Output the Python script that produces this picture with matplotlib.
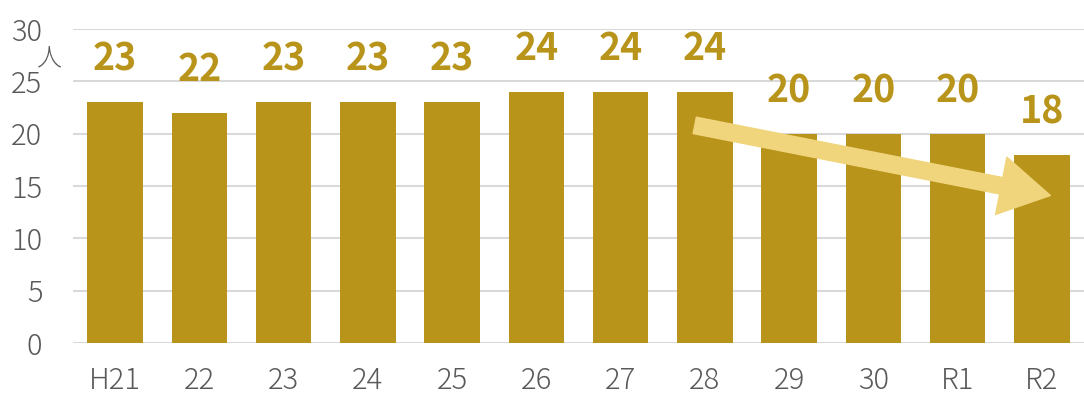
import matplotlib.pyplot as plt

# 職員数の推移（人）
categories = ["H21", "22", "23", "24", "25", "26", "27", "28", "29", "30", "R1", "R2"]
values = [23, 22, 23, 23, 23, 24, 24, 24, 20, 20, 20, 18]
yticks = [0, 5, 10, 15, 20, 25, 30]

bar_color = "#B8941A"
arrow_color = "#F0D57C"
text_gray = "#595959"

plt.rcParams["font.family"] = ["Noto Sans CJK JP", "DejaVu Sans"]

fig = plt.figure(figsize=(10.84, 3.99), dpi=100)
ax = fig.add_axes([0.0673, 0.1404, 0.9327, 0.7866])

x = range(len(categories))
ax.bar(x, values, width=0.66, color=bar_color, zorder=2)

for xi, v in zip(x, values):
    ax.annotate(str(v), (xi, v), xytext=(0, 17), textcoords="offset points",
                ha="center", va="bottom", fontsize=27, fontweight="bold",
                color=bar_color)

ax.set_xlim(-0.5, len(categories) - 0.5)
ax.set_ylim(0, 30)
ax.set_yticks(yticks)
ax.set_xticks(list(x))
ax.set_xticklabels(categories)
ax.tick_params(axis="both", length=0, labelsize=21, labelcolor=text_gray)
ax.tick_params(axis="x", pad=16)
ax.tick_params(axis="y", pad=22)
for lab in ax.get_xticklabels() + ax.get_yticklabels():
    lab.set_fontweight("light")

ax.grid(axis="y", color="#D9D9D9", linewidth=1.5, zorder=0)
for s in ax.spines.values():
    s.set_visible(False)

# 単位
ax.text(-0.78, 28.5, "人", ha="center", va="top",
        fontsize=18, color=text_gray, fontweight="light", clip_on=False)

# 減少傾向の矢印
ax.annotate("", xy=(11.1, 14.1), xytext=(6.88, 20.8),
            arrowprops=dict(arrowstyle="simple,head_length=1.8,head_width=2.1,tail_width=0.6",
                            color=arrow_color, mutation_scale=20, shrinkA=0, shrinkB=0),
            zorder=3)

fig.savefig("out.png", dpi=100)
